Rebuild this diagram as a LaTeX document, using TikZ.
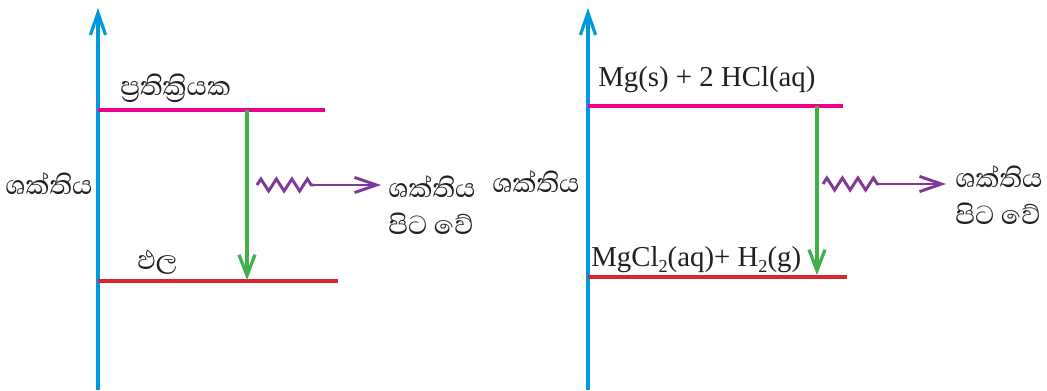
\documentclass[tikz,border=0pt]{standalone}
\usepackage{fontspec}
\setmainfont{Liberation Serif}
\newfontfamily\sinhalafont[Script=Sinhala]{Abhaya Libre}
\usetikzlibrary{arrows.meta,positioning,decorations.pathmorphing}
\definecolor{axisblue}{RGB}{0,153,221}
\definecolor{reactpink}{RGB}{236,0,140}
\definecolor{prodred}{RGB}{218,37,50}
\definecolor{dropgreen}{RGB}{64,176,74}
\definecolor{heatpurple}{RGB}{128,57,150}
\definecolor{ink}{RGB}{35,31,32}
\newcommand{\subtwo}{\raisebox{-0.5ex}{\fontsize{13}{13}\selectfont 2}}
\tikzset{
  axisline/.style={draw=axisblue, line width=2.3pt, -{Straight Barb[length=5.5mm, width=3.8mm]}},
  lvlr/.style={draw=reactpink, line width=2.3pt},
  lvlp/.style={draw=prodred, line width=2.3pt},
  drop/.style={draw=dropgreen, line width=2.3pt, -{Straight Barb[length=5.2mm, width=4mm]}},
  heat/.style={draw=heatpurple, line width=2.1pt},
  heatar/.style={heat, -{Straight Barb[length=5.5mm, width=3.8mm]}},
  zz/.style={heat, decorate, decoration={zigzag, segment length=15.5*0.025cm, amplitude=6*0.025cm}},
  si/.style={font=\sinhalafont\fontsize{24}{26}\selectfont, text=ink, inner sep=0pt, anchor=west},
  si2/.style={si, align=left},
  chem/.style={font=\fontsize{20.5}{22}\selectfont, text=ink, inner sep=0pt, anchor=base west},
}

\begin{document}
\begin{tikzpicture}[x=0.025cm,y=-0.025cm]
\useasboundingbox (0,0) rectangle (1047,390);

% ===================== left panel =====================
\coordinate (A0) at (98,390);
\coordinate (A1) at (98,8);
\draw[axisline] (A0) -- (A1);
\node[si] (EA) at (5,184) {ශක්තිය};

\coordinate (R0) at (98,110);
\coordinate (R1) at (325,110);
\coordinate (P0) at (98,281);
\coordinate (P1) at (338,281);
\draw[lvlr] (R0) -- (R1);
\draw[lvlp] (P0) -- (P1);
\node[si] (RT) at (120,88) {ප්^^^^200dරතික්^^^^200dරියක};
\node[si] (PT) at (137,262) {ඵල};

\coordinate (D0) at (247,110);
\coordinate (D1) at (247,280);
\draw[drop] (D0) -- (D1);

\coordinate (Z0) at (257,185);
\coordinate (Z1) at (314,185);
\coordinate (Z2) at (381,185);
\draw[zz] (Z0) -- (Z1);
\draw[heatar] (Z1) -- (Z2);
\node[si2] (HT) at (388,205) {ශක්තිය\\පිට වේ};

% ===================== right panel =====================
\coordinate (B0) at (588,390);
\coordinate (B1) at (588,8);
\draw[axisline] (B0) -- (B1);
\node[si] (EB) at (492,182) {ශක්තිය};

\coordinate (S0) at (588,106);
\coordinate (S1) at (843,106);
\coordinate (Q0) at (588,277);
\coordinate (Q1) at (847,277);
\draw[lvlr] (S0) -- (S1);
\draw[lvlp] (Q0) -- (Q1);
\node[chem] (ST) at (598,86) {Mg(s) + 2 HCl(aq)};
\node[chem] (QT) at (591,266) {MgCl\subtwo(aq)+ H\subtwo(g)};

\coordinate (E0) at (817,106);
\coordinate (E1) at (817,275);
\draw[drop] (E0) -- (E1);

\coordinate (Y0) at (823,184);
\coordinate (Y1) at (879,184);
\coordinate (Y2) at (946,184);
\draw[zz] (Y0) -- (Y1);
\draw[heatar] (Y1) -- (Y2);
\node[si2] (HU) at (955,195) {ශක්තිය\\පිට වේ};

\end{tikzpicture}
\end{document}
